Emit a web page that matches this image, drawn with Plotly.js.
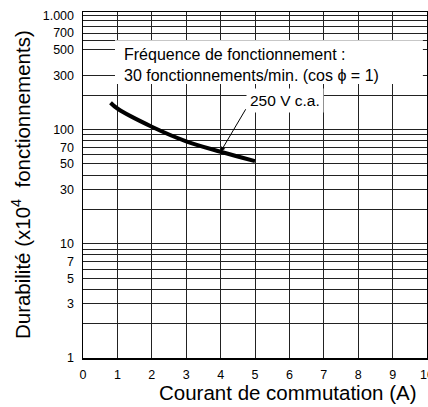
<!DOCTYPE html>
<html>
<head>
<meta charset="utf-8">
<script src="https://cdn.plot.ly/plotly-3.0.1.min.js"></script>
<style>html,body{margin:0;padding:0;background:#fff;}#chart{width:428px;height:407px;}</style>
</head>
<body>
<div id="chart"></div>
<script>
// Data
var current = [0.8, 1, 2, 3, 4, 5];            // Courant de commutation (A)
var durability = [172, 153, 106, 79, 64, 53];   // Durabilité (x10^4 fonctionnements)
var seriesLabel = '250 V c.a.';

var xTickVals = [0, 1, 2, 3, 4, 5, 6, 7, 8, 9, 10];
var yGridVals = [1, 2, 3, 4, 5, 6, 7, 8, 9, 10, 20, 30, 40, 50, 60, 70, 80, 90, 100, 200, 300, 500, 600, 700, 800, 900, 1000];
var yLabelMap = {1000: '1.000', 700: '700', 500: '500', 300: '300', 100: '100', 70: '70', 50: '50', 30: '30', 10: '10', 7: '7', 5: '5', 3: '3', 1: '1'};
var yTickText = yGridVals.map(function (v) { return yLabelMap[v] || ''; });

var FONT = 'Liberation Sans, Arial, Helvetica, sans-serif';
var arrowIdx = 4;

var trace = {
  x: current, y: durability, type: 'scatter', mode: 'lines',
  line: {color: '#000', width: 4, shape: 'spline'},
  name: seriesLabel, hoverinfo: 'x+y'
};

var layout = {
  width: 428, height: 407,
  margin: {l: 83, r: 1, t: 12, b: 49},
  paper_bgcolor: '#fff', plot_bgcolor: '#fff',
  showlegend: false,
  font: {family: FONT, color: '#000'},
  xaxis: {
    range: [0, 10], tickmode: 'array', tickvals: xTickVals,
    showgrid: true, gridcolor: '#222', gridwidth: 1,
    showline: true, linecolor: '#000', linewidth: 1.5, mirror: true,
    zeroline: false, ticks: '', ticklabelstandoff: 4, ticklabeloverflow: 'allow',
    tickfont: {family: FONT, size: 12.5, color: '#000'}
  },
  yaxis: {
    type: 'log', range: [0, 3.03], tickmode: 'array',
    tickvals: yGridVals, ticktext: yTickText,
    showgrid: true, gridcolor: '#222', gridwidth: 1,
    showline: true, linecolor: '#000', linewidth: 1.5, mirror: true,
    zeroline: false, ticks: '', ticklabelstandoff: 5,
    tickfont: {family: FONT, size: 12.5, color: '#000'}
  },
  shapes: [{
    type: 'rect', xref: 'paper', yref: 'paper', layer: 'above',
    x0: 0.093, x1: 0.988, y0: 0.792, y1: 0.918,
    fillcolor: '#fff', line: {width: 0}
  }],
  annotations: [
    {
      xref: 'paper', yref: 'paper', x: 0.1125, y: 0.847, xanchor: 'left', yanchor: 'middle',
      align: 'left', showarrow: false,
      text: 'Fréquence de fonctionnement :<br>30 fonctionnements/min. (cos ϕ = 1)',
      font: {family: FONT, size: 16, color: '#000'}
    },
    {
      xref: 'x', yref: 'y', x: current[arrowIdx], y: Math.log10(durability[arrowIdx]),
      ax: 26, ay: -44, axref: 'pixel', ayref: 'pixel',
      showarrow: true, arrowhead: 2, arrowsize: 1, arrowwidth: 1, arrowcolor: '#000',
      text: ''
    },
    {
      xref: 'paper', yref: 'paper', x: 0.587, y: 0.744, xanchor: 'center', yanchor: 'middle',
      showarrow: false, text: seriesLabel, bgcolor: '#fff', borderpad: 3,
      font: {family: FONT, size: 15.5, color: '#000'}
    },
    {
      xref: 'paper', yref: 'paper', x: 0.595, y: -0.099, xanchor: 'center', yanchor: 'middle',
      showarrow: false, text: 'Courant de commutation (A)',
      font: {family: FONT, size: 20.5, color: '#000'}
    },
    {
      xref: 'paper', yref: 'paper', x: -0.18, y: 0.5, xanchor: 'center', yanchor: 'middle',
      textangle: -90, showarrow: false,
      text: 'Durabilité (x10<sup>4</sup>  fonctionnements)',
      font: {family: FONT, size: 20.5, color: '#000'}
    }
  ]
};

Plotly.newPlot('chart', [trace], layout, {displayModeBar: false, staticPlot: true});
</script>
</body>
</html>
